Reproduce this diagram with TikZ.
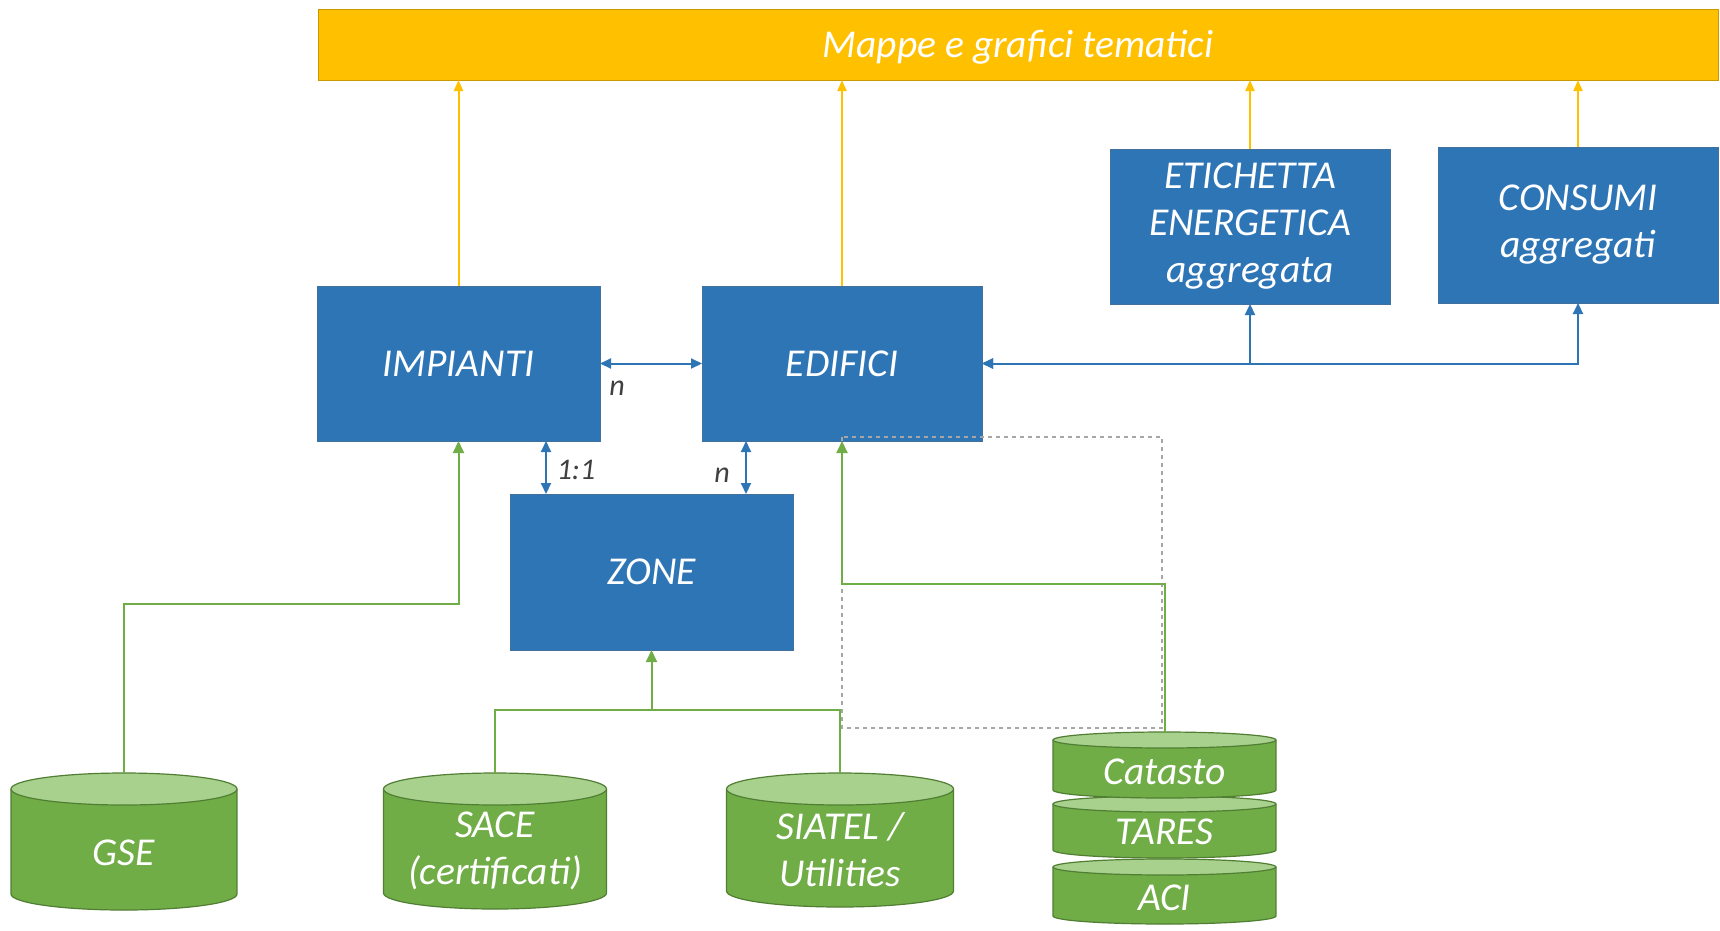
\documentclass[tikz,border=0pt]{standalone}
\usepackage{fontspec}
\setmainfont{Carlito}
\usetikzlibrary{arrows.meta,calc}
\definecolor{boxblue}{HTML}{2E75B6}
\definecolor{boxblueedge}{HTML}{41719C}
\definecolor{baryellow}{HTML}{FFC000}
\definecolor{baryellowedge}{HTML}{C99A00}
\definecolor{dbgreen}{HTML}{70AD47}
\definecolor{dbtop}{HTML}{A9D18E}
\definecolor{dbedge}{HTML}{507E32}
\definecolor{labelgray}{HTML}{404040}
\definecolor{dashgray}{HTML}{A6A6A6}
\newcommand\bigit{\itshape\fontsize{39.5}{47}\selectfont}
\newcommand\lblfont{\itshape\fontsize{30}{32}\selectfont}
% name, cx, rx, ytop, ybot, ry, texty, text
\newcommand\dbcyl[8]{%
  \fill[dbgreen] (#2-#3,#4) rectangle (#2+#3,#5);
  \fill[dbgreen] (#2,#5) ellipse[x radius=#3, y radius=#6];
  \draw[dbedge, line width=1.2pt] (#2-#3,#4) -- (#2-#3,#5)
     arc[start angle=180, end angle=0, x radius=#3, y radius=#6] -- (#2+#3,#4);
  \filldraw[fill=dbtop, draw=dbedge, line width=1.2pt] (#2,#4) ellipse[x radius=#3, y radius=#6];
  \coordinate (#1top) at (#2,#4-#6);
  \node[dbtext] (#1) at (#2,#7) {#8};
}
\tikzset{
  bluebox/.style={rectangle, fill=boxblue, draw=boxblueedge, line width=1pt,
    text=white, font=\bigit, align=center, inner sep=0pt, outer sep=0pt},
  dbtext/.style={text=white, font=\bigit, align=center, inner sep=0pt},
  lbl/.style={text=labelgray, font=\lblfont, inner sep=0pt},
  yarrow/.style={draw=baryellow, line width=2pt, -{Triangle[length=11pt,width=9pt]}},
  barrow/.style={draw=boxblue, line width=2pt,
    {Triangle[length=11pt,width=10pt]}-{Triangle[length=11pt,width=10pt]}},
  garrow/.style={draw=dbgreen, line width=2pt, -{Triangle[length=12pt,width=11pt]}},
  gline/.style={draw=dbgreen, line width=2pt},
}
\begin{document}
\begin{tikzpicture}[x=1pt, y=-1pt]
\useasboundingbox (0,0) rectangle (1720,930);
\fill[white] (0,0) rectangle (1720,930);

% top bar
\node[bluebox, fill=baryellow, draw=baryellowedge, minimum width=1400pt, minimum height=71pt,
  text height=30pt, text depth=5pt] (mappe) at (1018,44.5) {Mappe e grafici tematici};

% blue boxes
\node[bluebox, minimum width=283pt, minimum height=155pt] (impianti) at (458.5,363.5) {IMPIANTI};
\node[bluebox, minimum width=280pt, minimum height=155pt] (edifici) at (842,363.5) {EDIFICI};
\node[bluebox, minimum width=280pt, minimum height=155pt] (etichetta) at (1250,226.5) {ETICHETTA\\ENERGETICA\\aggregata};
\node[bluebox, minimum width=280pt, minimum height=156pt] (consumi) at (1578,225) {CONSUMI\\aggregati};
\node[bluebox, minimum width=283pt, minimum height=156pt] (zone) at (651.5,572) {ZONE};

% databases
\dbcyl{gse}{124}{113}{789}{894}{16}{853}{GSE}
\dbcyl{sace}{495}{111.5}{789}{893}{16}{851}{SACE\\(certificati)}
\dbcyl{siatel}{840}{113.5}{789}{891}{16}{850}{SIATEL /\\Utilities}
\dbcyl{aci}{1164.5}{111.5}{867}{916}{8}{898}{ACI}
\dbcyl{tares}{1164.5}{111.5}{804}{850}{8}{832}{TARES}
\dbcyl{catasto}{1164.5}{111.5}{740}{790}{8}{772}{Catasto}

% yellow arrows
\draw[yarrow] (impianti.north) -- (impianti.north |- mappe.south);
\draw[yarrow] (edifici.north) -- (edifici.north |- mappe.south);
\draw[yarrow] (etichetta.north) -- (etichetta.north |- mappe.south);
\draw[yarrow] (consumi.north) -- (consumi.north |- mappe.south);

% blue relations
\draw[barrow] (impianti.east) -- (edifici.west);
\draw[barrow] (edifici.east) -| (etichetta.south);
\draw[barrow] (edifici.east) -| (consumi.south);
\coordinate (zi) at ([xshift=36pt]zone.north west);
\coordinate (ze) at ([xshift=-47pt]zone.north east);
\draw[barrow] (zi |- impianti.south) -- (zi);
\draw[barrow] (ze |- edifici.south) -- (ze);
\node[lbl] (nimp) at (617,388) {n};
\node[lbl] (n11) at (576,470) {1:1};
\node[lbl] (nzone) at (722,475) {n};

% dashed frame
\draw[dashgray, line width=1.5pt, dash pattern=on 4pt off 4pt] (842,437) rectangle (1162,728);

% green feeds
\coordinate (gj) at (124,604);
\draw[garrow] (gsetop) -- (gj) -| (impianti.south);
\coordinate (zj) at (651.5,710);
\draw[gline] (sacetop) |- (zj);
\draw[gline] (siateltop) |- (zj);
\draw[garrow] (zj) -- (zone.south);
\coordinate (cj) at (1164.5,584);
\draw[garrow] (catastotop) -- (cj) -| (edifici.south);
\end{tikzpicture}
\end{document}
